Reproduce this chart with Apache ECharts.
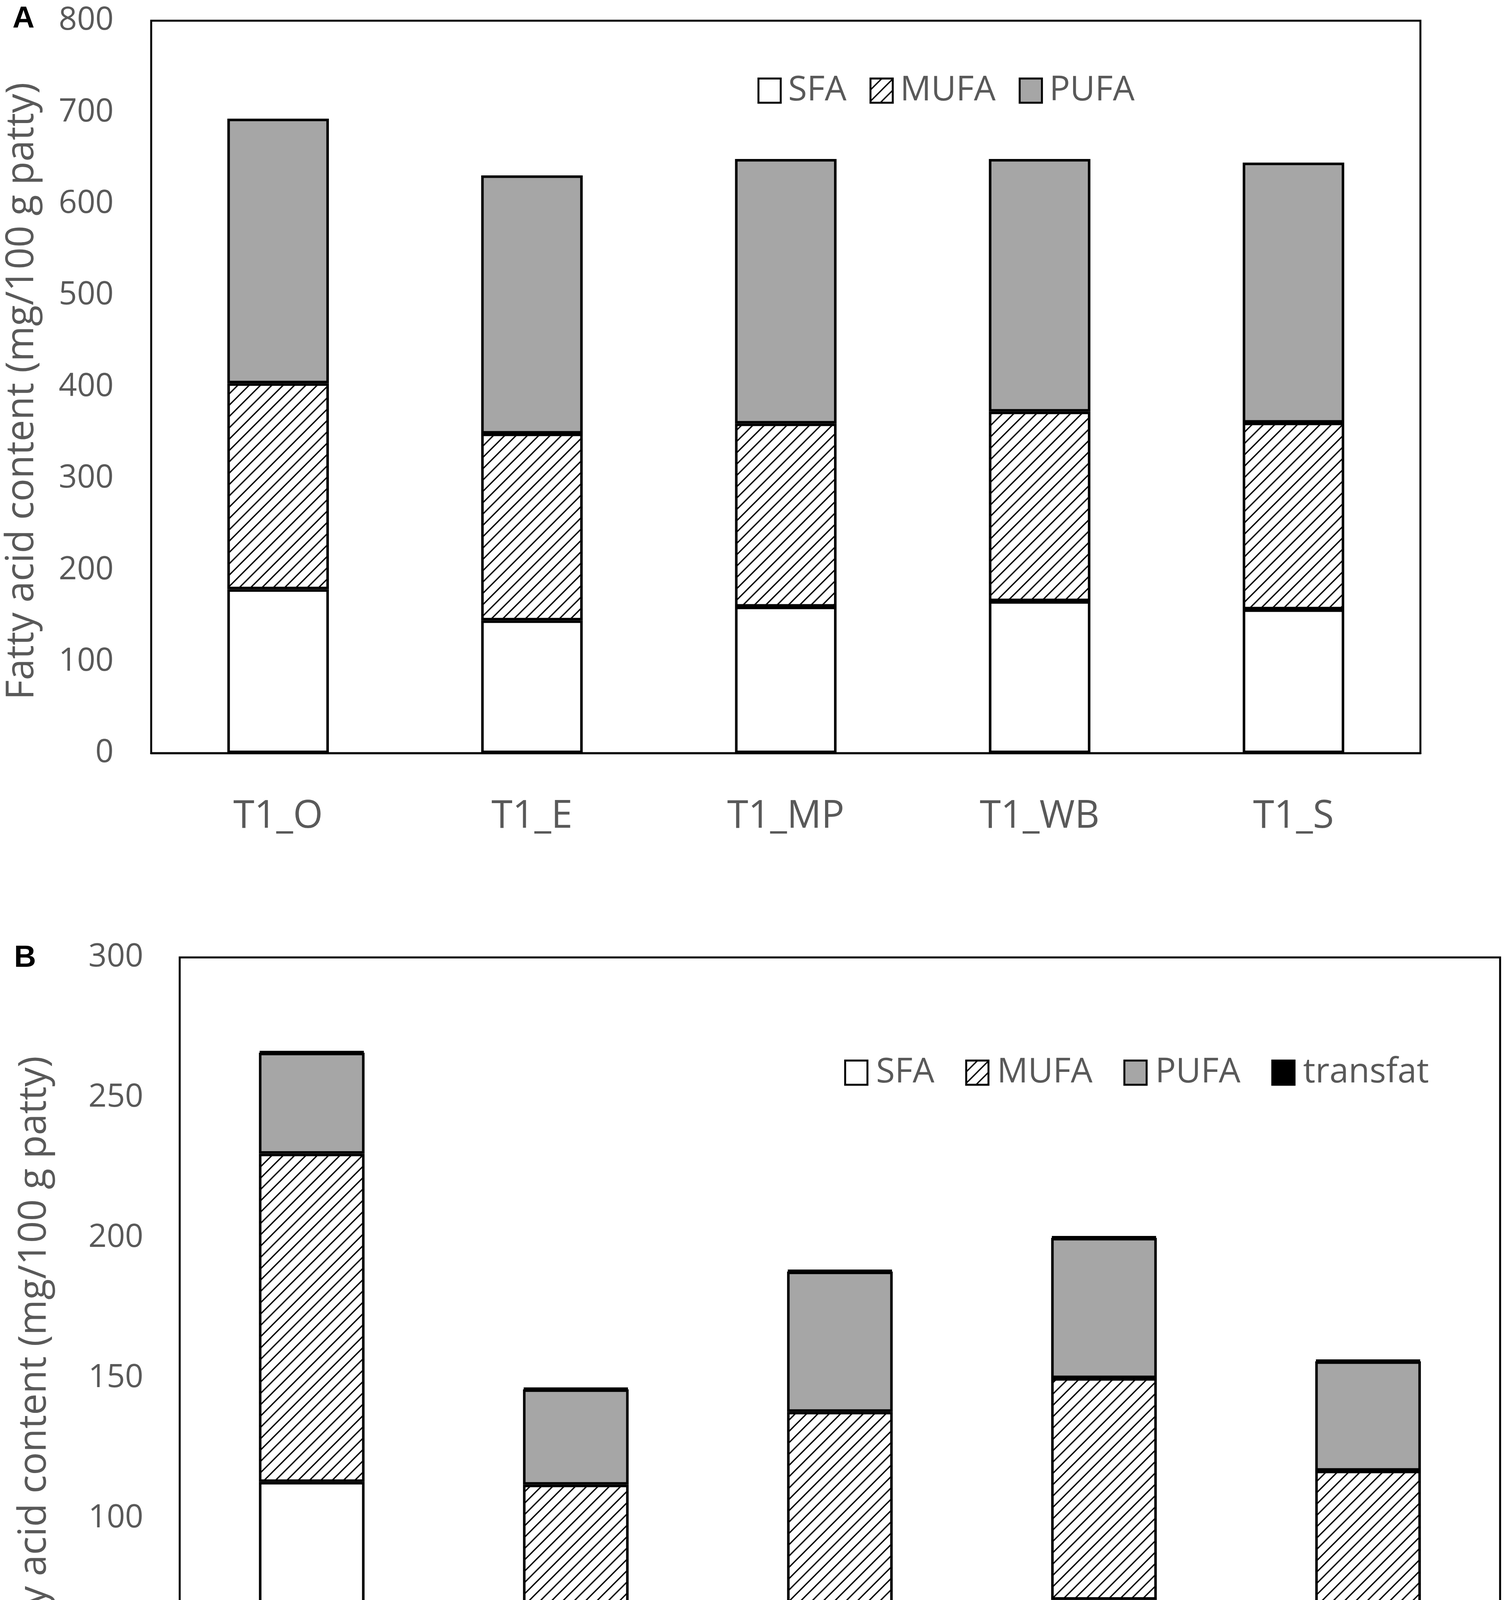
<!DOCTYPE html>
<html>
<head>
<meta charset="utf-8">
<script src="https://cdn.jsdelivr.net/npm/echarts@6/dist/echarts.min.js"></script>
<style>
html,body{margin:0;padding:0;background:#fff;}
#chart{width:3850px;height:4794px;}
</style>
</head>
<body>
<div id="chart"></div>
<script>
// Panel A data
const categoriesA = ['T1_O', 'T1_E', 'T1_MP', 'T1_WB', 'T1_S'];
const sfaA = [179, 145, 160, 166, 157];
const mufaA = [225, 204, 200, 207, 204];
const pufaA = [289, 282, 289, 276, 284];
const ticksA = { min: 0, max: 800, interval: 100 };

// Panel B data
const categoriesB = ['T2_O', 'T2_E', 'T2_MP', 'T2_WB', 'T2_S'];
const sfaB = [113, 51, 65, 71, 54];
const mufaB = [117, 61, 73, 79, 63];
const pufaB = [36, 34, 50, 50, 39];
const transfatB = [0.5, 0.5, 0.5, 0.5, 0.5];
const ticksB = { min: 0, max: 300, interval: 50 };

const yTitle = 'Fatty acid content (mg/100 g patty)';
const legendA = ['SFA', 'MUFA', 'PUFA'];
const legendB = ['SFA', 'MUFA', 'PUFA', 'transfat'];

function makeHatch() {
  const s = 29;
  const c = document.createElement('canvas');
  c.width = s; c.height = s;
  const g = c.getContext('2d');
  g.fillStyle = '#ffffff';
  g.fillRect(0, 0, s, s);
  g.strokeStyle = '#000000';
  g.lineWidth = 3.4;
  g.beginPath();
  g.moveTo(-2, s + 2); g.lineTo(s + 2, -2);
  g.moveTo(-3, 3); g.lineTo(3, -3);
  g.moveTo(s - 3, s + 3); g.lineTo(s + 3, s - 3);
  g.stroke();
  return c;
}
const hatch = { image: makeHatch(), repeat: 'repeat' };

const txt = '#595959';
const font = 'Open Sans';

function barSeries(name, data, color, axisIdx, stack) {
  return {
    name: name,
    type: 'bar',
    stack: stack,
    xAxisIndex: axisIdx,
    yAxisIndex: axisIdx,
    barWidth: '40%',
    data: data,
    itemStyle: { color: color, borderColor: '#000', borderWidth: 6.5 }
  };
}

function xAx(idx, data, margin) {
  return {
    type: 'category', gridIndex: idx, data: data,
    axisLine: { lineStyle: { color: '#000', width: 5 } },
    axisTick: { show: false },
    axisLabel: { color: txt, fontSize: 98, fontFamily: font, margin: margin }
  };
}
function yAx(idx, t, margin, gap, pad) {
  return {
    type: 'value', gridIndex: idx, min: t.min, max: t.max, interval: t.interval,
    splitLine: { show: false },
    axisLine: { show: false },
    axisTick: { show: false },
    axisLabel: { color: txt, fontSize: 82, fontFamily: font, margin: margin },
    name: yTitle, nameLocation: 'middle', nameGap: gap,
    nameTextStyle: { color: txt, fontSize: 98, fontFamily: font, padding: pad }
  };
}
function leg(data, left, top, gap, pad) {
  return {
    data: data, left: left, top: top, orient: 'horizontal',
    icon: 'rect', itemWidth: 57, itemHeight: 62, itemGap: gap,
    itemStyle: { borderColor: '#000', borderWidth: 5 },
    textStyle: { color: txt, fontSize: 88, fontFamily: font, padding: [0, 0, 0, pad] },
    selectedMode: false
  };
}

const chart = echarts.init(document.getElementById('chart'), null, { renderer: 'canvas' });
chart.setOption({
  animation: false,
  backgroundColor: '#ffffff',
  textStyle: { fontFamily: font },
  grid: [
    { left: 386, top: 53, width: 3250, height: 1875, show: true, borderColor: '#000', borderWidth: 5, containLabel: false },
    { left: 460, top: 2451, width: 3380, height: 2154, show: true, borderColor: '#000', borderWidth: 5, containLabel: false }
  ],
  xAxis: [xAx(0, categoriesA, 114), xAx(1, categoriesB, 69)],
  yAxis: [yAx(0, ticksA, 96, 281, [0, 22, 0, 0]), yAx(1, ticksB, 93, 322, [0, 0, 0, 68])],
  legend: [leg(legendA, 1934, 183, 59, 14), leg(legendB, 2156, 2697, 79, 17)],
  series: [
    barSeries('SFA', sfaA, '#ffffff', 0, 'A'),
    barSeries('MUFA', mufaA, hatch, 0, 'A'),
    barSeries('PUFA', pufaA, '#a6a6a6', 0, 'A'),
    barSeries('SFA', sfaB, '#ffffff', 1, 'B'),
    barSeries('MUFA', mufaB, hatch, 1, 'B'),
    barSeries('PUFA', pufaB, '#a6a6a6', 1, 'B'),
    barSeries('transfat', transfatB, '#000000', 1, 'B')
  ],
  graphic: [
    { type: 'text', left: 32, top: 10, style: { text: 'A', font: 'bold 78px "Liberation Sans"', fill: '#000' } },
    { type: 'text', left: 36, top: 2414, style: { text: 'B', font: 'bold 78px "Liberation Sans"', fill: '#000' } }
  ]
});
</script>
</body>
</html>
